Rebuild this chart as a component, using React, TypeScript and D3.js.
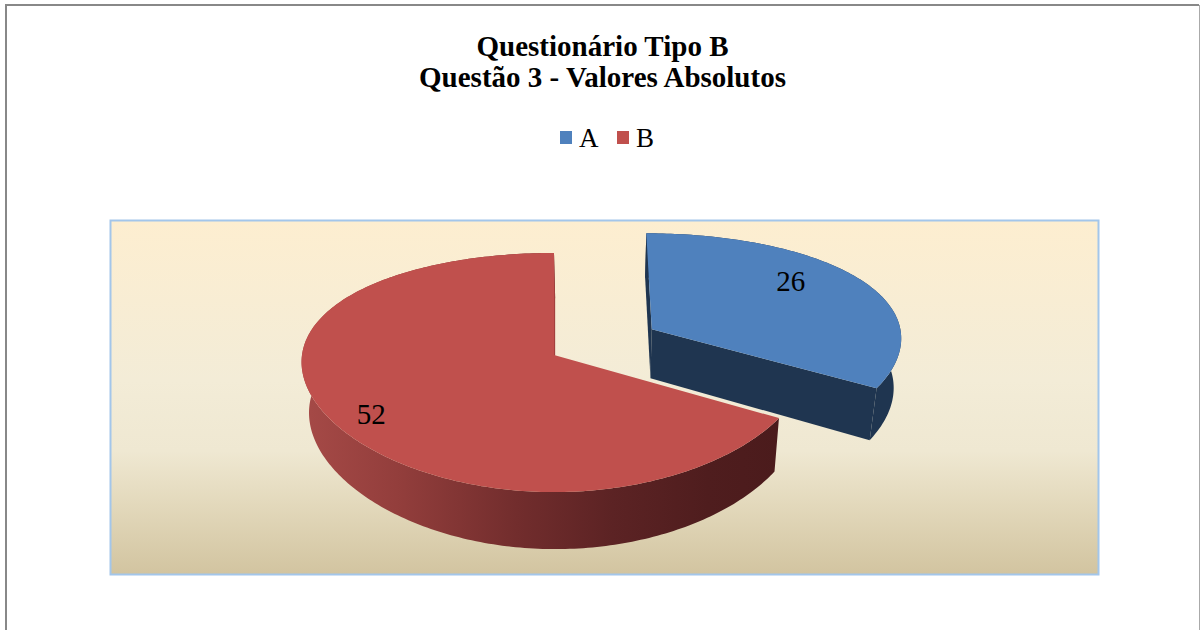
import React from "react";
import * as d3 from "d3";

// ---- data ----
const categories: string[] = ["A", "B"];
const values: number[] = [26, 52];
const topColors: string[] = ["#4f81bd", "#c0504d"];
const sideColors: string[] = ["#1f3550", "#a3403e"];
const explodedCategory = "A";
const titleLines: string[] = ["Questionário Tipo B", "Questão 3 - Valores Absolutos"];

// ---- layout ----
const W = 1200;
const H = 630;
const plot = { x: 110.5, y: 220.5, w: 988, h: 354 };

// 3D pie projection (perspective, tilted view)
const CX = 554;
const CY = 355;
const RX = 252;
const RY = 117;
const KX = 0.06;
const KY = 0.1465;
const VX = 600; // horizontal vanishing centre for the base face
const SHRINK = 0.025;
const DEPTH = 50.3;
const DRY = 5.75;
const EXPLODE = 0.454;
const LABEL_R = 0.8;
const LABEL_TURN = (-6 * Math.PI) / 180;
const LABEL_DX = -15;

type Pt = [number, number];

function proj(u: number, v: number, z: number): Pt {
  const sx = 1 / (1 + KX * v);
  const sy = 1 / (1 + KY * v);
  const xt = CX + RX * u * sx;
  const x = VX + (xt - VX) * (1 - SHRINK * z);
  const y = CY + DEPTH * z - (RY + DRY * z) * v * sy;
  return [x, y];
}

function arcPts(a0: number, a1: number, ox: number, oy: number, z: number): Pt[] {
  const n = Math.max(2, Math.ceil((Math.abs(a1 - a0) * 180) / Math.PI));
  return d3.range(n + 1).map((i) => {
    const a = a0 + ((a1 - a0) * i) / n;
    return proj(ox + Math.sin(a), oy + Math.cos(a), z);
  });
}

const line = d3.line<Pt>().x((d) => d[0]).y((d) => d[1]);
const poly = (pts: Pt[]) => (line(pts) || "") + "Z";

const pie = d3
  .pie<number>()
  .sort(null)
  .startAngle(0)
  .endAngle(2 * Math.PI);

const serif = "Liberation Serif, Tinos, DejaVu Serif, serif";

export default function App() {
  const arcs = pie(values);

  const slices = arcs.map((a, i) => {
    const mid = (a.startAngle + a.endAngle) / 2;
    const e = categories[i] === explodedCategory ? EXPLODE : 0;
    const ox = e * Math.sin(mid);
    const oy = e * Math.cos(mid);
    const topArc = arcPts(a.startAngle, a.endAngle, ox, oy, 0);
    const botArc = arcPts(a.startAngle, a.endAngle, ox, oy, 1);
    const apexTop = proj(ox, oy, 0);
    const apexBot = proj(ox, oy, 1);
    const wall = poly([...topArc, ...botArc.slice().reverse()]);
    const top = poly([apexTop, ...topArc]);
    // cut faces, kept only when they turn towards the viewer (or edge-on)
    const faces: string[] = [];
    const faceDefs = [
      { normal: a.startAngle - Math.PI / 2, corner: 0 },
      { normal: a.endAngle + Math.PI / 2, corner: topArc.length - 1 },
    ];
    faceDefs.forEach((f) => {
      if (Math.cos(f.normal) <= 0.05) {
        faces.push(poly([apexTop, topArc[f.corner], botArc[f.corner], apexBot]));
      }
    });
    const xs = [...topArc, ...botArc].map((p) => p[0]);
    const ext = d3.extent(xs) as [number, number];
    const la = mid + LABEL_TURN;
    const lp = proj(ox + LABEL_R * Math.sin(la), oy + LABEL_R * Math.cos(la), 0);
    return { i, wall, top, faces, ext, lp, value: values[i] };
  });

  const bSlice = slices[1];
  const gradStops: [number, string][] = [
    [0, "#a64a47"],
    [0.2, "#933e3c"],
    [0.45, "#722d2d"],
    [0.65, "#5c2324"],
    [0.85, "#4f1d1e"],
    [1, "#4b1b1c"],
  ];

  const cx = (6 + 1199) / 2;

  // legend layout
  const legendY = 137;
  const legendItems = categories.map((c, i) => ({ c, color: topColors[i], x: 560 + i * 57 }));

  return (
    <div style={{ position: "fixed", left: 0, top: 0 }}>
      <svg width={W} height={H} style={{ display: "block" }}>
        <defs>
          <linearGradient id="plotBg" x1="0" y1="0" x2="0" y2="1">
            <stop offset="0" stopColor="#fdeed0" />
            <stop offset="0.45" stopColor="#f3ecd7" />
            <stop offset="0.65" stopColor="#efe8d2" />
            <stop offset="0.8" stopColor="#e3d9bc" />
            <stop offset="1" stopColor="#d2c4a0" />
          </linearGradient>
          <linearGradient
            id="wallB"
            gradientUnits="userSpaceOnUse"
            x1={bSlice.ext[0]}
            x2={bSlice.ext[1]}
            y1={0}
            y2={0}
          >
            {gradStops.map(([o, c]) => (
              <stop key={o} offset={o} stopColor={c} />
            ))}
          </linearGradient>
        </defs>

        <rect x={0} y={0} width={W} height={H} fill="#ffffff" />
        {/* chart frame */}
        <line x1={6} y1={5} x2={1199} y2={5} stroke="#888888" strokeWidth={2} />
        <line x1={6} y1={4} x2={6} y2={H} stroke="#888888" strokeWidth={2} />
        <line x1={1199.5} y1={5} x2={1199.5} y2={H} stroke="#aaaaaa" strokeWidth={1} />

        {/* title */}
        {titleLines.map((t, k) => (
          <text
            key={t}
            x={cx}
            y={56 + k * 31}
            textAnchor="middle"
            style={{ fontFamily: serif, fontWeight: 700, fontSize: 29 }}
            fill="#000"
          >
            {t}
          </text>
        ))}

        {/* legend */}
        {legendItems.map((l) => (
          <g key={l.c}>
            <rect x={l.x} y={legendY - 6} width={12} height={13} fill={l.color} />
            <text
              x={l.x + 19}
              y={legendY + 10}
              style={{ fontFamily: serif, fontSize: 27 }}
              fill="#000"
            >
              {l.c}
            </text>
          </g>
        ))}

        {/* plot area */}
        <rect
          x={plot.x}
          y={plot.y}
          width={plot.w}
          height={plot.h}
          fill="url(#plotBg)"
          stroke="#a3c6ea"
          strokeWidth={2}
        />

        {/* slices: exploded one first (it sits further back) */}
        {slices.map((s) => (
          <g key={categories[s.i]}>
            <path d={s.wall} fill={s.i === 1 ? "url(#wallB)" : sideColors[s.i]} />
            {s.faces.map((f, k) => (
              <path key={k} d={f} fill={sideColors[s.i]} />
            ))}
            <path d={s.top} fill={topColors[s.i]} />
          </g>
        ))}

        {/* data labels */}
        {slices.map((s) => (
          <text
            key={"lbl" + s.i}
            x={s.lp[0] + LABEL_DX}
            y={s.lp[1]}
            textAnchor="middle"
            dominantBaseline="central"
            style={{ fontFamily: serif, fontSize: 29 }}
            fill="#000"
          >
            {s.value}
          </text>
        ))}
      </svg>
    </div>
  );
}
